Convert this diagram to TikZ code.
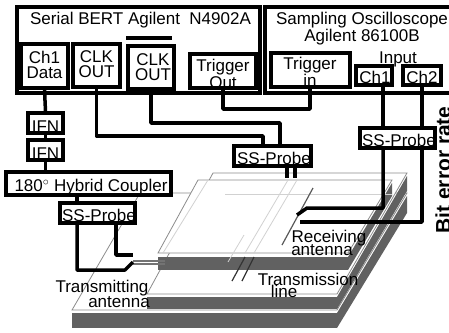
\documentclass[tikz,border=0pt]{standalone}
\usepackage{fontspec}
\setmainfont{Liberation Sans}
\usetikzlibrary{positioning}

\begin{document}
\begin{tikzpicture}[
    x=1pt, y=-1pt,
    box/.style={draw, line width=3.5pt, inner sep=0pt, fill=white},
    lab/.style={inner sep=0pt, align=center, font=\fontsize{17}{15}\selectfont},
    wire/.style={line width=3.5pt, line join=round},
    slabtop/.style={fill=white, draw=black!45, line width=0.8pt},
    slabside/.style={fill=black!62, draw=none},
    trace/.style={draw=black!18, line width=0.8pt},
    strip/.style={draw=black!65, line width=1.2pt}
  ]
    \useasboundingbox (0,0) rectangle (449,332);

    % board, bottom to top
    \fill[slabside] (72,313) rectangle (337,328);
    \fill[slabside] (337,313) -- (407,196) -- (407,213) -- (337,328) -- cycle;
    \path[slabtop] (72,310) -- (140,193) -- (407,193) -- (337,310) -- cycle;
    \fill[slabside] (147,297) rectangle (337,309);
    \fill[slabside] (337,297) -- (407,176) -- (407,191) -- (337,309) -- cycle;
    \path[slabtop] (147,294) -- (213,173) -- (407,173) -- (337,294) -- cycle;
    \fill[slabside] (158,257) rectangle (348,270);
    \fill[slabside] (348,257) -- (392,183) -- (392,196) -- (348,270) -- cycle;
    \path[slabtop] (158,253) -- (198,180) -- (392,180) -- (348,253) -- cycle;
    \draw[trace] (208,180) -- (163,253);
    \draw[trace] (225,194) -- (392,194);

    % strip lines on the board
    \draw[trace] (288,180) -- (245,253);
    \draw[trace] (297,180) -- (254,253);
    \draw[trace] (244,235) -- (228,262);
    \draw[strip] (313,188) -- (282,245);
    \draw[strip, black!80] (245,257) -- (232,281);
    \draw[strip, black!80] (254,257) -- (242,281);
    \draw[strip, black!55] (133,261) -- (165,261);
    \draw[strip, black!55] (133,264) -- (165,264);

    % instruments
    \node[box, minimum width=243, minimum height=86] (bert) at (138.5,50) {};
    \node[box, minimum width=190, minimum height=86] (scope) at (360,50) {};
    \node[lab] (berttxt) at (140.5,20) {Serial BERT Agilent\ \ N4902A};
    \node[lab] (scopetxt) at (362,29) {Sampling Oscilloscope\\Agilent 86100B};

    \node[box, minimum width=47, minimum height=44] (chdata) at (44.5,66) {};
    \node[box, minimum width=47, minimum height=43] (clka) at (96.5,65.5) {};
    \node[box, minimum width=46, minimum height=43] (clkb) at (151,67.5) {};
    \node[box, minimum width=66, minimum height=34] (trigout) at (223,71) {};
    \node[box, minimum width=79, minimum height=34] (trigin) at (310.5,70) {};
    \node[box, minimum width=36, minimum height=19] (cha) at (374,75.5) {};
    \node[box, minimum width=38, minimum height=19] (chb) at (422,75.5) {};
    \coordinate (clkbarl) at (126,38);
    \coordinate (clkbarr) at (172,38);
    \draw[wire] (clkbarl) -- (clkbarr);

    \node[lab] (chdatatxt) at (44.5,65) {Ch1\\Data};
    \node[lab] (clkatxt) at (96.5,64) {CLK\\OUT};
    \node[lab] (clkbtxt) at (153,67) {CLK\\OUT};
    \node[lab] (trigouttxt) at (223,74) {Trigger\\Out};
    \node[lab] (trigintxt) at (310,72) {Trigger\\in};
    \node[lab] (inputtxt) at (398,59) {Input};
    \node[lab] (chatxt) at (375,77) {Ch1};
    \node[lab] (chbtxt) at (422,77) {Ch2};

    % probes, filters and coupler
    \node[box, minimum width=35, minimum height=20] (ifna) at (45.5,123) {};
    \node[box, minimum width=35, minimum height=20] (ifnb) at (45.5,150) {};
    \node[box, minimum width=165, minimum height=23] (coupler) at (88.5,183.5) {};
    \node[box, minimum width=75, minimum height=20] (ssleft) at (97.5,213) {};
    \node[box, minimum width=77, minimum height=20] (ssmid) at (272.5,156) {};
    \node[box, minimum width=75, minimum height=20] (ssright) at (397.5,138) {};

    \node[lab] (ifnatxt) at (45.5,127) {IFN};
    \node[lab] (ifnbtxt) at (45.5,154) {IFN};
    \node[lab] (couplertxt) at (91,187) {180$^{\circ}$\ Hybrid Coupler};
    \node[lab] (sslefttxt) at (99,215) {SS-Probe};
    \node[lab] (ssmidtxt) at (274,158) {SS-Probe};
    \node[lab] (ssrighttxt) at (399,140) {SS-Probe};

    % bends and free ends of the wires
    \coordinate (clkabend) at (263,136);
    \coordinate (clkbbend) at (280,123);
    \coordinate (trigbend) at (310,109);
    \coordinate (txa) at (125,270);
    \coordinate (txaend) at (133,262);
    \coordinate (txb) at (116,255);
    \coordinate (txbend) at (133,255);
    \coordinate (rxa) at (383,208);
    \coordinate (rxaend) at (307,208);
    \coordinate (rxb) at (422,222);
    \coordinate (rxbend) at (300,222);
    \coordinate (linea) at (287,178);
    \coordinate (lineb) at (295,178);

    \draw[wire] (chdata.south) -- (ifna.north);
    \draw[wire] (ifna.south) -- (ifnb.north);
    \draw[wire] (ifnb.south) -- (ifnb.south |- coupler.north);
    \draw[wire] (coupler.south -| 77,0) -- (ssleft.north -| 77,0);
    \draw[wire] (clka.south) |- (clkabend) -- (clkabend |- ssmid.north);
    \draw[wire] (clkb.south) |- (clkbbend) -- (clkbbend |- ssmid.north);
    \draw[wire] (trigout.south) |- (trigbend) -- (trigbend |- trigin.south);
    \draw[wire] (cha.south -| rxa) -- (ssright.north -| rxa);
    \draw[wire] (chb.south) -- (chb.south |- ssright.north);
    \draw[wire] (ssright.south -| rxa) -- (rxa) -- (rxaend) -- ++(-10,7);
    \draw[wire] (ssright.south -| rxb) -- (rxb) -- (rxbend);
    \draw[wire] (ssmid.south -| linea) -- (linea);
    \draw[wire] (ssmid.south -| lineb) -- (lineb);
    \draw[wire] (ssleft.south -| 77,0) |- (txa) -- (txaend);
    \draw[wire] (ssleft.south -| txb) -- (txb) -- (txbend);

    % labels on the board
    \node[lab] (rxatxt) at (329,238) {Receiving};
    \node[lab] (rxbtxt) at (322,250) {antenna};
    \node[lab] (tlatxt) at (308,279) {Transmission};
    \node[lab] (tlbtxt) at (284,291) {line};
    \node[lab] (txatxt) at (102,288) {Transmitting};
    \node[lab] (txbtxt) at (119,302) {antenna};
    \node[lab, font=\fontsize{21}{21}\selectfont\bfseries, rotate=90] (bertxt) at (443,170) {Bit error rate};
  \end{tikzpicture}
\end{document}
